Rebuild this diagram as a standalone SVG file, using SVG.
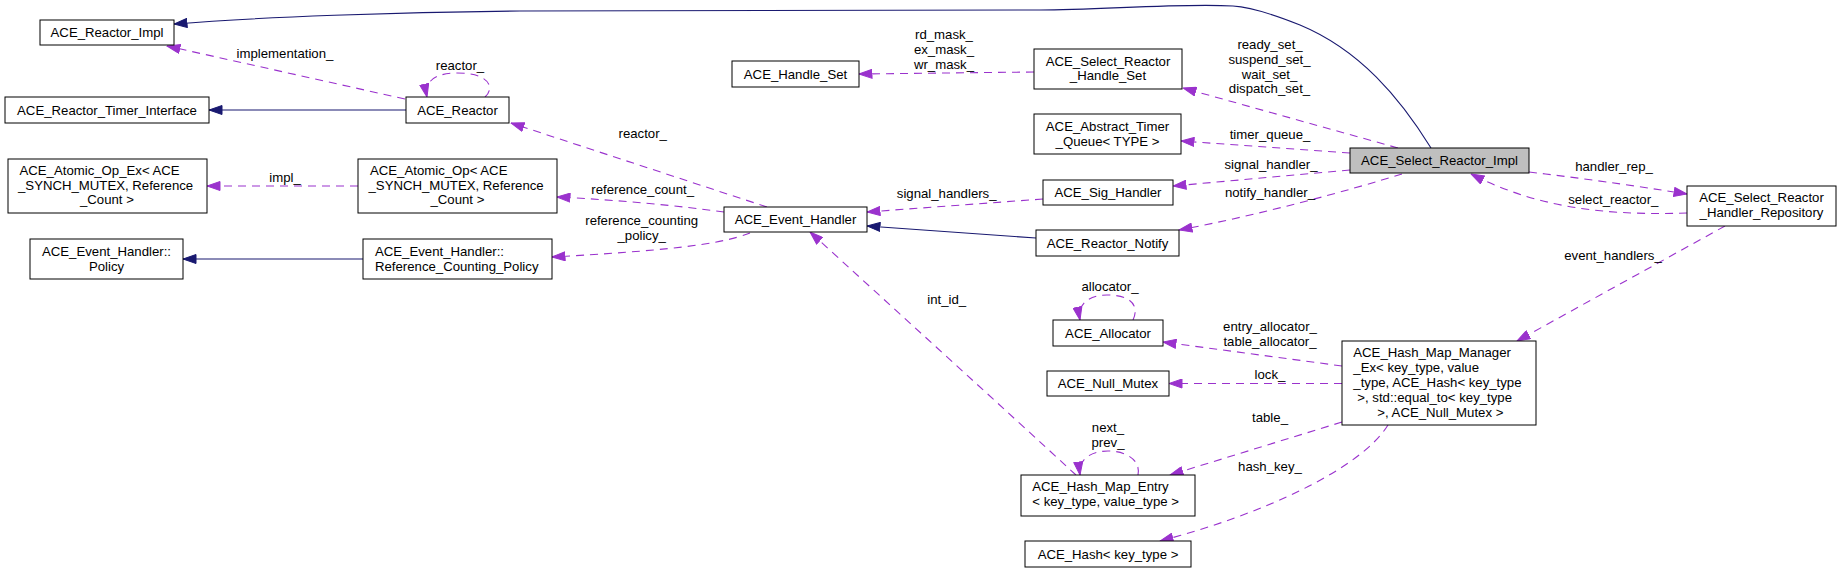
<svg xmlns="http://www.w3.org/2000/svg" width="1841" height="573" viewBox="0 0 1841 573">
<style>
.bg{fill:#fff}
.n rect{fill:#fff;stroke:#000;stroke-width:1}
.n rect.main{fill:#bfbfbf}
text{font-family:"Liberation Sans",Arial,Helvetica,sans-serif;font-size:13.2px;fill:#000}
.m{text-anchor:middle}
.s{text-anchor:start}
.inh{fill:none;stroke:#191970;stroke-width:1.1;marker-end:url(#an)}
.use{fill:none;stroke:#9a32cd;stroke-width:1.1;stroke-dasharray:8,6;marker-end:url(#ap)}
</style>
<defs>
<marker id="an" viewBox="0 0 14 10" refX="13.5" refY="5" markerWidth="14" markerHeight="10" markerUnits="userSpaceOnUse" orient="auto">
<path d="M0.5,0.5 L13.5,5 L0.5,9.5 z" fill="#191970" stroke="#191970" stroke-width="1" stroke-dasharray="none"/>
</marker>
<marker id="ap" viewBox="0 0 14 10" refX="13.5" refY="5" markerWidth="14" markerHeight="10" markerUnits="userSpaceOnUse" orient="auto">
<path d="M0.5,0.5 L13.5,5 L0.5,9.5 z" fill="#9a32cd" stroke="#9a32cd" stroke-width="1" stroke-dasharray="none"/>
</marker>
</defs>
<rect class="bg" x="0" y="0" width="1841" height="573"/>

<g id="connectors">
<!-- inheritance -->
<path class="inh" d="M1431,148 C1400,98 1360,50 1300,25 C1270,13 1250,7 1233,6 C1180,3 1100,10 1040,10 L520,11 C400,12 260,17 174,24"/>
<path class="inh" d="M406,110 L209,110"/>
<path class="inh" d="M363,259 L183,259"/>
<path class="inh" d="M1036,238 L867,226"/>
<!-- usage -->
<path class="use" d="M405,99 L167,46"/>
<path class="use" d="M485,97 C495,88 490,73 457,73 C433,73 424,83 427,97"/>
<path class="use" d="M767,207 L511,123"/>
<path class="use" d="M358,186 L207,186"/>
<path class="use" d="M724,212 C680,206 620,200 557,197"/>
<path class="use" d="M750,233 C720,245 660,251 552,257"/>
<path class="use" d="M1043,199 L867,212"/>
<path class="use" d="M1034,72 L859,74"/>
<path class="use" d="M1398,148 L1183,88"/>
<path class="use" d="M1350,153 L1181,141"/>
<path class="use" d="M1350,170 L1173,186"/>
<path class="use" d="M1402,174 C1350,190 1260,215 1179,230"/>
<path class="use" d="M1529,172 C1580,178 1630,185 1687,194"/>
<path class="use" d="M1687,213 C1620,215 1545,212 1471,174"/>
<path class="use" d="M1725,226 L1517,341"/>
<path class="use" d="M1342,366 L1163,342"/>
<path class="use" d="M1133,320 C1140,305 1130,295 1107,295 C1088,295 1077,305 1080,320"/>
<path class="use" d="M1342,383.5 L1169,383.5"/>
<path class="use" d="M1342,422 L1170,475"/>
<path class="use" d="M1138,475 C1141,460 1126,451 1108,451 C1090,451 1078,460 1080,475"/>
<path class="use" d="M1076,475 C1000,405 890,305 810,232"/>
<path class="use" d="M1388,425 C1360,470 1260,515 1160,541"/>
</g>

<g id="edge-labels">
<text class="m" x="285" y="58">implementation_</text>
<text class="m" x="460" y="69.5">reactor_</text>
<text class="m" x="642.7" y="137.5">reactor_</text>
<text class="m" x="285" y="182">impl_</text>
<text class="m" x="642.7" y="194">reference_count_</text>
<text class="m" x="641.7" y="225">reference_counting</text>
<text class="m" x="641.7" y="240">_policy_</text>
<text class="m" x="946.7" y="198">signal_handlers_</text>
<text class="m" x="944" y="39">rd_mask_</text>
<text class="m" x="944" y="54">ex_mask_</text>
<text class="m" x="944" y="69">wr_mask_</text>
<text class="m" x="1270" y="49">ready_set_</text>
<text class="m" x="1269.5" y="64">suspend_set_</text>
<text class="m" x="1269.5" y="78.5">wait_set_</text>
<text class="m" x="1269.5" y="93">dispatch_set_</text>
<text class="m" x="1270" y="139">timer_queue_</text>
<text class="m" x="1271" y="169">signal_handler_</text>
<text class="m" x="1270" y="197">notify_handler_</text>
<text class="m" x="1614" y="171">handler_rep_</text>
<text class="m" x="1613.3" y="203.5">select_reactor_</text>
<text class="m" x="1613" y="259.5">event_handlers_</text>
<text class="m" x="1110" y="291">allocator_</text>
<text class="m" x="1270" y="330.5">entry_allocator_</text>
<text class="m" x="1270" y="345.5">table_allocator_</text>
<text class="m" x="1270" y="379">lock_</text>
<text class="m" x="1270" y="422">table_</text>
<text class="m" x="1108" y="432">next_</text>
<text class="m" x="1108" y="447">prev_</text>
<text class="m" x="946.7" y="303.5">int_id_</text>
<text class="m" x="1270" y="471">hash_key_</text>
</g>

<g id="ACE_Reactor_Impl" class="n"><rect x="40" y="20" width="134" height="25"/><text class="m" x="107" y="37">ACE_Reactor_Impl</text></g>
<g id="ACE_Reactor_Timer_Interface" class="n"><rect x="5" y="97" width="204" height="26"/><text class="m" x="107" y="114.5">ACE_Reactor_Timer_Interface</text></g>
<g id="ACE_Reactor" class="n"><rect x="406" y="97" width="103" height="26"/><text class="m" x="457.5" y="114.5">ACE_Reactor</text></g>
<g id="ACE_Atomic_Op_Ex" class="n"><rect x="8" y="159" width="199" height="54"/>
<text class="s" x="19.5" y="175">ACE_Atomic_Op_Ex&lt; ACE</text>
<text class="s" x="18" y="189.5">_SYNCH_MUTEX, Reference</text>
<text class="s" x="80" y="204">_Count &gt;</text></g>
<g id="ACE_Atomic_Op" class="n"><rect x="358" y="159" width="199" height="54"/>
<text class="s" x="370" y="175">ACE_Atomic_Op&lt; ACE</text>
<text class="s" x="368.5" y="189.5">_SYNCH_MUTEX, Reference</text>
<text class="s" x="430.5" y="204">_Count &gt;</text></g>
<g id="ACE_Event_Handler_Policy" class="n"><rect x="30" y="239" width="153" height="40"/>
<text class="m" x="106.5" y="255.5">ACE_Event_Handler::</text>
<text class="m" x="106.5" y="270.5">Policy</text></g>
<g id="ACE_Event_Handler_Reference_Counting_Policy" class="n"><rect x="363" y="239" width="189" height="40"/>
<text class="s" x="375" y="255.5">ACE_Event_Handler::</text>
<text class="s" x="375" y="270.5">Reference_Counting_Policy</text></g>
<g id="ACE_Event_Handler" class="n"><rect x="724" y="207" width="143" height="25"/><text class="m" x="795.5" y="224">ACE_Event_Handler</text></g>
<g id="ACE_Handle_Set" class="n"><rect x="732" y="61" width="127" height="26"/><text class="m" x="795.5" y="78.5">ACE_Handle_Set</text></g>
<g id="ACE_Select_Reactor_Handle_Set" class="n"><rect x="1034" y="49" width="148" height="40"/>
<text class="m" x="1108" y="65.5">ACE_Select_Reactor</text>
<text class="m" x="1108" y="80">_Handle_Set</text></g>
<g id="ACE_Abstract_Timer_Queue" class="n"><rect x="1034" y="114" width="147" height="40"/>
<text class="m" x="1107.5" y="130.5">ACE_Abstract_Timer</text>
<text class="m" x="1107.5" y="145.5">_Queue&lt; TYPE &gt;</text></g>
<g id="ACE_Sig_Handler" class="n"><rect x="1043" y="180" width="130" height="25"/><text class="m" x="1108" y="197">ACE_Sig_Handler</text></g>
<g id="ACE_Reactor_Notify" class="n"><rect x="1036" y="230" width="143" height="26"/><text class="m" x="1107.5" y="247.5">ACE_Reactor_Notify</text></g>
<g id="ACE_Select_Reactor_Impl" class="n"><rect class="main" x="1350" y="148" width="179" height="25"/><text class="m" x="1439.5" y="165">ACE_Select_Reactor_Impl</text></g>
<g id="ACE_Select_Reactor_Handler_Repository" class="n"><rect x="1687" y="186" width="149" height="40"/>
<text class="m" x="1761.5" y="202">ACE_Select_Reactor</text>
<text class="m" x="1761.5" y="217">_Handler_Repository</text></g>
<g id="ACE_Hash_Map_Manager_Ex" class="n"><rect x="1342" y="341" width="194" height="84"/>
<text class="s" x="1353.3" y="357">ACE_Hash_Map_Manager</text>
<text class="s" x="1353.3" y="372">_Ex&lt; key_type, value</text>
<text class="s" x="1353.3" y="387">_type, ACE_Hash&lt; key_type</text>
<text class="s" x="1357.3" y="401.5">&gt;, std::equal_to&lt; key_type</text>
<text class="s" x="1377.3" y="416.5">&gt;, ACE_Null_Mutex &gt;</text></g>
<g id="ACE_Allocator" class="n"><rect x="1053" y="320" width="110" height="26"/><text class="m" x="1108" y="337.5">ACE_Allocator</text></g>
<g id="ACE_Null_Mutex" class="n"><rect x="1047" y="371" width="122" height="25"/><text class="m" x="1108" y="388">ACE_Null_Mutex</text></g>
<g id="ACE_Hash_Map_Entry" class="n"><rect x="1021" y="475" width="174" height="41"/>
<text class="s" x="1032.3" y="491">ACE_Hash_Map_Entry</text>
<text class="s" x="1032.3" y="506">&lt; key_type, value_type &gt;</text></g>
<g id="ACE_Hash" class="n"><rect x="1025" y="541" width="166" height="26"/><text class="m" x="1108" y="558.5">ACE_Hash&lt; key_type &gt;</text></g>
</svg>
